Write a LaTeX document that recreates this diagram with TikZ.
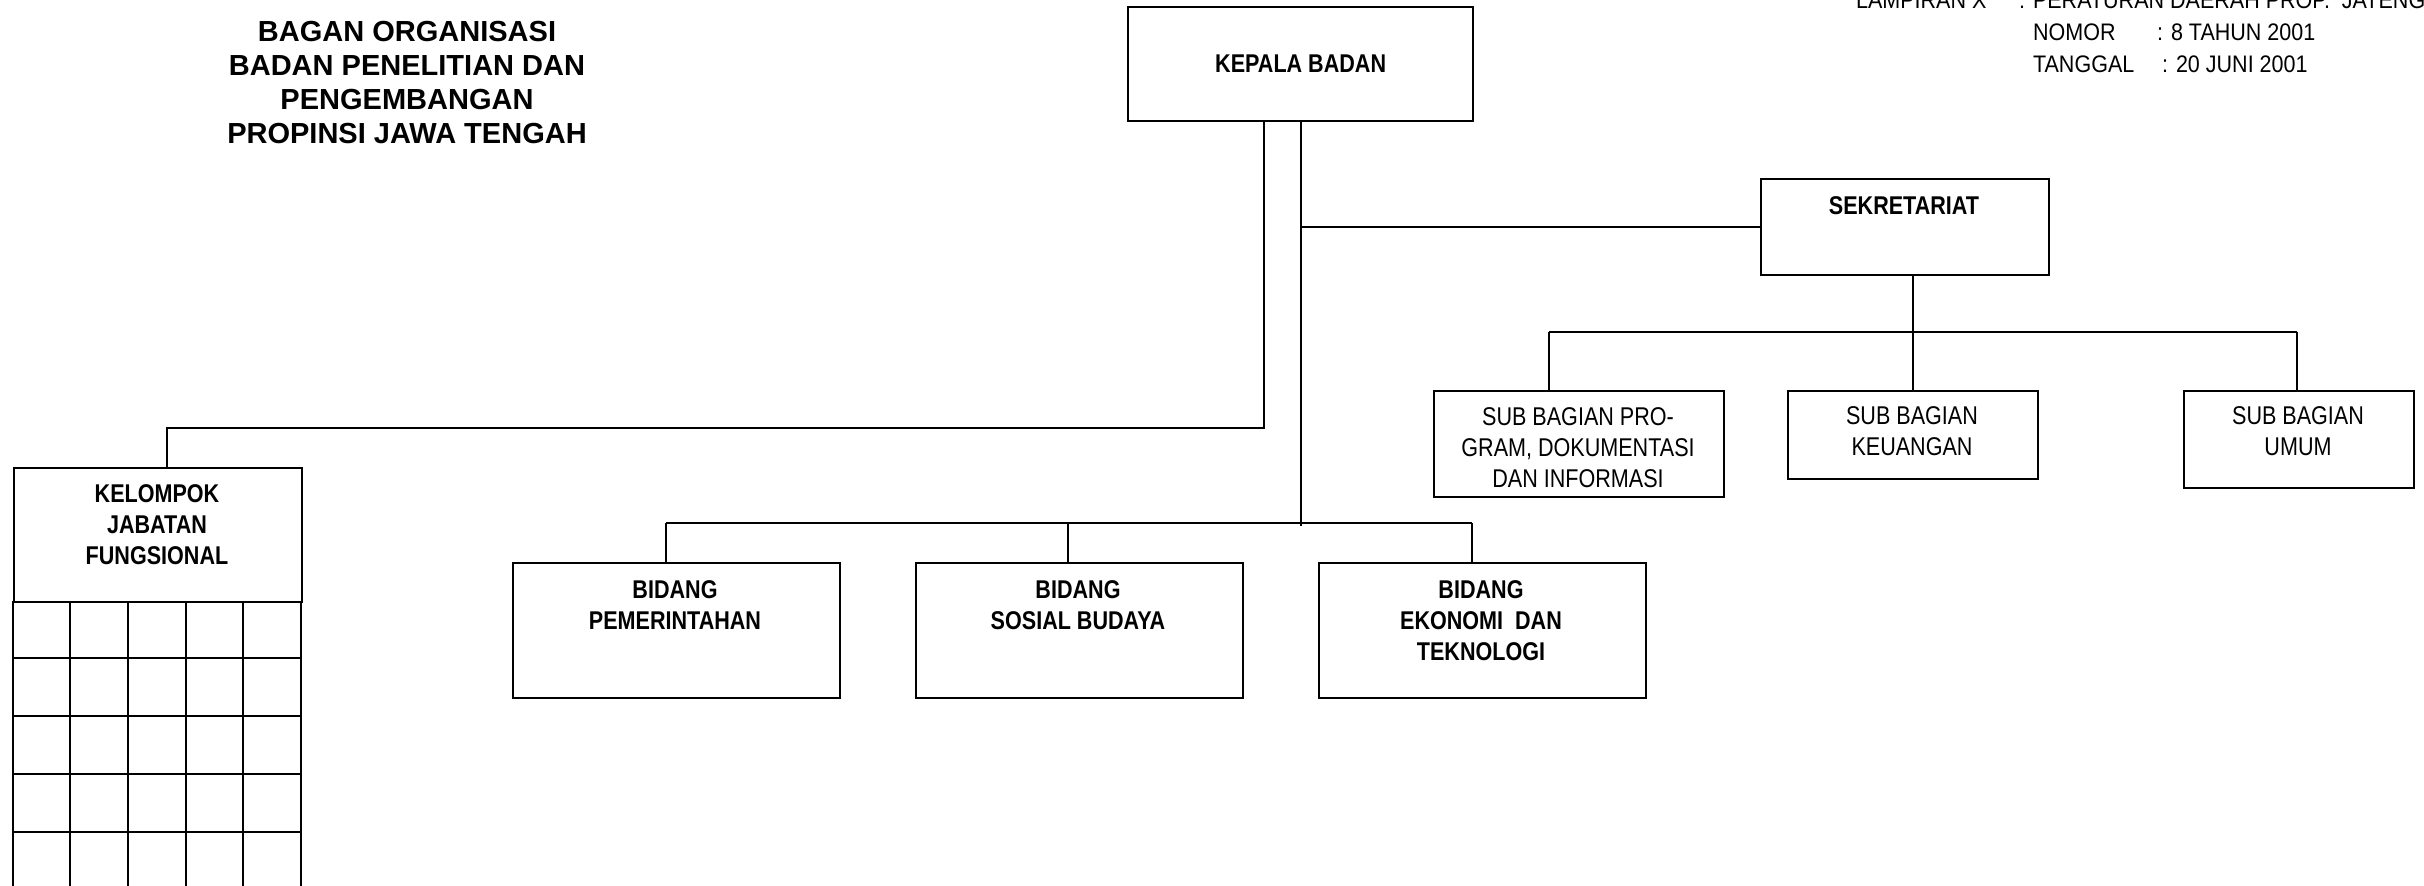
\documentclass[tikz,border=0pt]{standalone}
\usepackage{fontspec}
\setmainfont{Liberation Sans}
\newfontfamily\nar[FakeStretch=0.84]{Liberation Sans}
\newfontfamily\narl[FakeStretch=0.9]{Liberation Sans}
\begin{document}
\begin{tikzpicture}[x=0.01cm,y=-0.01cm,line width=0.6pt,
  box/.style={draw,rectangle,inner sep=0pt,anchor=north west},
  btxt/.style={font=\nar\fontsize{7.3pt}{8.7pt}\selectfont\bfseries,align=center,inner sep=0pt,anchor=north},
  rtxt/.style={font=\nar\fontsize{7.3pt}{8.7pt}\selectfont,align=center,inner sep=0pt,anchor=north},
  ltxt/.style={font=\narl\fontsize{6.8pt}{8.5pt}\selectfont,inner sep=0pt,anchor=base west},
  ttxt/.style={font=\fontsize{8.25pt}{9.7pt}\selectfont\bfseries,align=center,inner sep=0pt,anchor=north}]
\clip (0,0) rectangle (2424,886);
\fill[white] (0,0) rectangle (2424,886);

% title
\node[ttxt] (title) at (407,20) {BAGAN ORGANISASI\\BADAN PENELITIAN DAN\\PENGEMBANGAN\\PROPINSI JAWA TENGAH};

% lampiran
\node[ltxt] (l1a) at (1855,9) {LAMPIRAN X};
\node[ltxt] (l1b) at (2018,9) {: PERATURAN DAERAH PROP.\ \ JATENG};
\node[ltxt] (l2a) at (2032,41) {NOMOR};
\node[ltxt] (l2b) at (2156,41) {: 8 TAHUN 2001};
\node[ltxt] (l3a) at (2032,73) {TANGGAL};
\node[ltxt] (l3b) at (2161,73) {: 20 JUNI 2001};

% boxes
\node[box,minimum width=3.45cm,minimum height=1.14cm] (kepala) at (1127,6) {};
\node[box,minimum width=2.88cm,minimum height=0.96cm] (sekr) at (1760,178) {};
\node[box,minimum width=2.90cm,minimum height=1.06cm] (pro) at (1433,390) {};
\node[box,minimum width=2.50cm,minimum height=0.88cm] (keu) at (1787,390) {};
\node[box,minimum width=2.30cm,minimum height=0.97cm] (umum) at (2183,390) {};
\node[box,minimum width=3.27cm,minimum height=1.35cm] (pem) at (512,562) {};
\node[box,minimum width=3.27cm,minimum height=1.35cm] (sos) at (915,562) {};
\node[box,minimum width=3.27cm,minimum height=1.35cm] (eko) at (1318,562) {};
\node[box,minimum width=2.88cm,minimum height=1.34cm] (kel) at (13,467) {};

% texts
\node[btxt,anchor=center] (t-kep) at (kepala.center) {KEPALA BADAN};
\node[btxt] (t-sek) at (1904,196) {SEKRETARIAT};
\node[rtxt] (t-pro) at (1578,407) {SUB BAGIAN PRO-\\GRAM, DOKUMENTASI\\DAN INFORMASI};
\node[rtxt] (t-keu) at (1912,406) {SUB BAGIAN\\KEUANGAN};
\node[rtxt] (t-umum) at (2298,406) {SUB BAGIAN\\UMUM};
\node[btxt] (t-pem) at (675,580) {BIDANG\\PEMERINTAHAN};
\node[btxt] (t-sos) at (1078,580) {BIDANG\\SOSIAL BUDAYA};
\node[btxt] (t-eko) at (1481,580) {BIDANG\\EKONOMI\ \ DAN\\TEKNOLOGI};
\node[btxt] (t-kel) at (157,484) {KELOMPOK\\JABATAN\\FUNGSIONAL};

% grid under kelompok
\foreach \yy in {658,716,774,832} \draw (13,\yy) -- (301,\yy);
\foreach \xx in {13,70,128,186,243,301} \draw (\xx,601) -- (\xx,900);

% connectors
\coordinate (jk) at (167,428);
\draw ([xshift=-0.37cm]kepala.south) |- (jk) -- (kel.north -| jk);

\coordinate (c-pem) at (666,523);
\coordinate (c-sos) at (1068,523);
\coordinate (c-eko) at (1472,523);
\draw (kepala.south) -- ++(0,404);
\draw (c-pem) -- (c-eko);
\draw (c-pem) -- (c-pem |- pem.north);
\draw (c-sos) -- (c-sos |- sos.north);
\draw (c-eko) -- (c-eko |- eko.north);

\draw (kepala.south |- sekr.west) -- (sekr.west);

\coordinate (s-bar) at (1913,332);
\coordinate (c-pro) at (1549,332);
\coordinate (c-umum) at (2297,332);
\draw (sekr.south -| s-bar) -- (s-bar);
\draw (c-pro) -- (c-umum);
\draw (c-pro) -- (c-pro |- pro.north);
\draw (s-bar) -- (s-bar |- keu.north);
\draw (c-umum) -- (c-umum |- umum.north);
\end{tikzpicture}
\end{document}
